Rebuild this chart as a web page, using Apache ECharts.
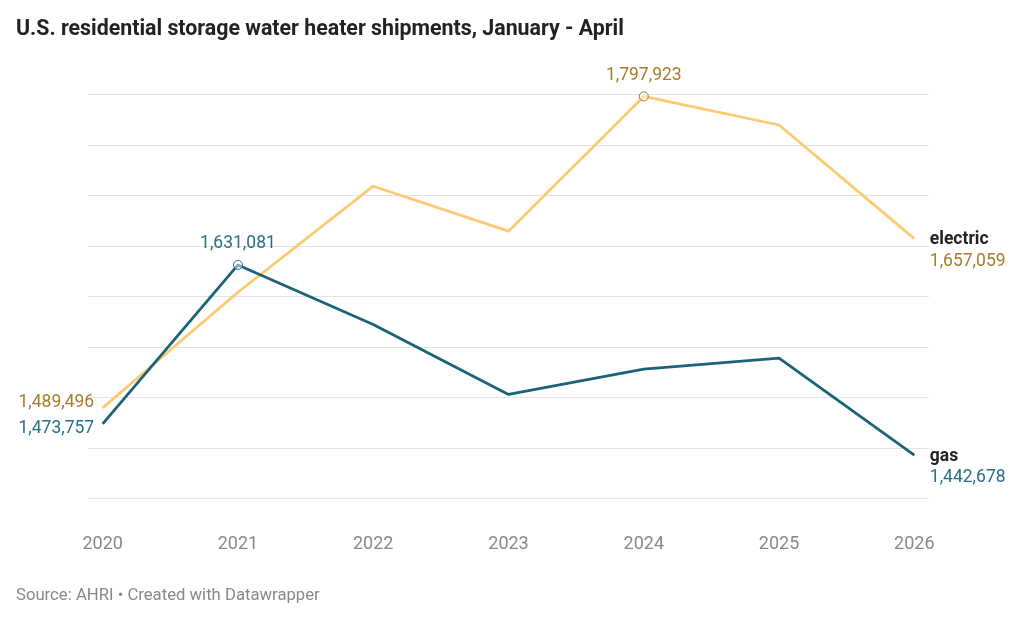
<!DOCTYPE html>
<html>
<head>
<meta charset="utf-8">
<script src="https://cdn.jsdelivr.net/npm/echarts@6/dist/echarts.min.js"></script>
<style>
html,body{margin:0;padding:0;background:#fff;}
#chart{width:1024px;height:621px;}
</style>
</head>
<body>
<div id="chart"></div>
<script>
const years = [2020, 2021, 2022, 2023, 2024, 2025, 2026];
const electric = [1489496, 1604000, 1709000, 1664500, 1797923, 1769600, 1657059];
const gas = [1473757, 1631081, 1572000, 1502800, 1527800, 1538700, 1442678];
const yTicks = [1400000, 1450000, 1500000, 1550000, 1600000, 1650000, 1700000, 1750000, 1800000];

const ELEC_LINE = '#fdca72', ELEC_TEXT = '#a57c2c';
const GAS_LINE = '#1b6379', GAS_TEXT = '#2a6f86';
const FONT = 'Roboto';
const fmt = v => v.toLocaleString('en-US');

function buildData(vals, highlightIdx, lineColor, textColor, name, startOffset) {
  return vals.map((v, i) => {
    const item = { value: [years[i], v] };
    if (i === highlightIdx) {
      item.symbol = 'circle';
      item.symbolSize = 9;
      item.itemStyle = { color: 'rgba(255,255,255,0.45)', borderColor: textColor, borderWidth: 1, opacity: 1 };
      item.label = {
        show: true, position: 'top', distance: 7,
        formatter: fmt(v), color: textColor, fontSize: 17.5, fontFamily: FONT
      };
    }
    if (i === 0) {
      item.symbol = 'circle';
      item.symbolSize = 1;
      item.itemStyle = { color: 'rgba(0,0,0,0)', borderWidth: 0 };
      item.label = {
        show: true, position: 'left', distance: 8, offset: [0, startOffset],
        formatter: fmt(v), color: textColor, fontSize: 17.5, fontFamily: FONT
      };
    }
    if (i === vals.length - 1) {
      item.symbol = 'circle';
      item.symbolSize = 1;
      item.itemStyle = { color: 'rgba(0,0,0,0)', borderWidth: 0 };
      item.label = {
        show: true, position: 'right', distance: 15, offset: [0, 12],
        formatter: '{n|' + name + '}\n{v|' + fmt(v) + '}',
        rich: {
          n: { fontSize: 17.5, fontWeight: 'bold', color: '#222', fontFamily: FONT, lineHeight: 21.5 },
          v: { fontSize: 17.5, color: textColor, fontFamily: FONT, lineHeight: 21.5 }
        }
      };
    }
    return item;
  });
}

const chart = echarts.init(document.getElementById('chart'));
chart.setOption({
  animation: false,
  backgroundColor: '#fff',
  title: [
    { text: 'U.S. residential storage water heater shipments, January - April',
      left: 16, top: 19, padding: 0,
      textStyle: { fontFamily: FONT, fontSize: 21.35, fontWeight: 'bold', color: '#222' } },
    { text: 'Source: AHRI • Created with Datawrapper',
      left: 16, top: 587, padding: 0,
      textStyle: { fontFamily: FONT, fontSize: 16.7, fontWeight: 'normal', color: '#888' } }
  ],
  grid: { left: 88, right: 95, top: 94.3, bottom: 621 - 498.3, containLabel: false },
  xAxis: {
    type: 'value',
    min: 2020 - 0.1085, max: 2026 + 0.1085,
    axisLine: { show: false }, axisTick: { show: false }, splitLine: { show: false },
    axisLabel: {
      customValues: years,
      formatter: v => String(v),
      margin: 37, fontSize: 18, color: '#888', fontFamily: FONT
    }
  },
  yAxis: {
    type: 'value',
    min: yTicks[0], max: yTicks[yTicks.length - 1], interval: 50000,
    axisLine: { show: false }, axisTick: { show: false }, axisLabel: { show: false },
    splitLine: { show: true, lineStyle: { color: '#e3e3e3', width: 1 } }
  },
  series: [
    { name: 'electric', type: 'line', symbol: 'none', showSymbol: true,
      lineStyle: { color: ELEC_LINE, width: 2.8 }, itemStyle: { color: ELEC_LINE },
      data: buildData(electric, 4, ELEC_LINE, ELEC_TEXT, 'electric', -5), z: 2 },
    { name: 'gas', type: 'line', symbol: 'none', showSymbol: true,
      lineStyle: { color: GAS_LINE, width: 2.8 }, itemStyle: { color: GAS_LINE },
      data: buildData(gas, 1, GAS_LINE, GAS_TEXT, 'gas', 5), z: 3 }
  ]
});
</script>
</body>
</html>
